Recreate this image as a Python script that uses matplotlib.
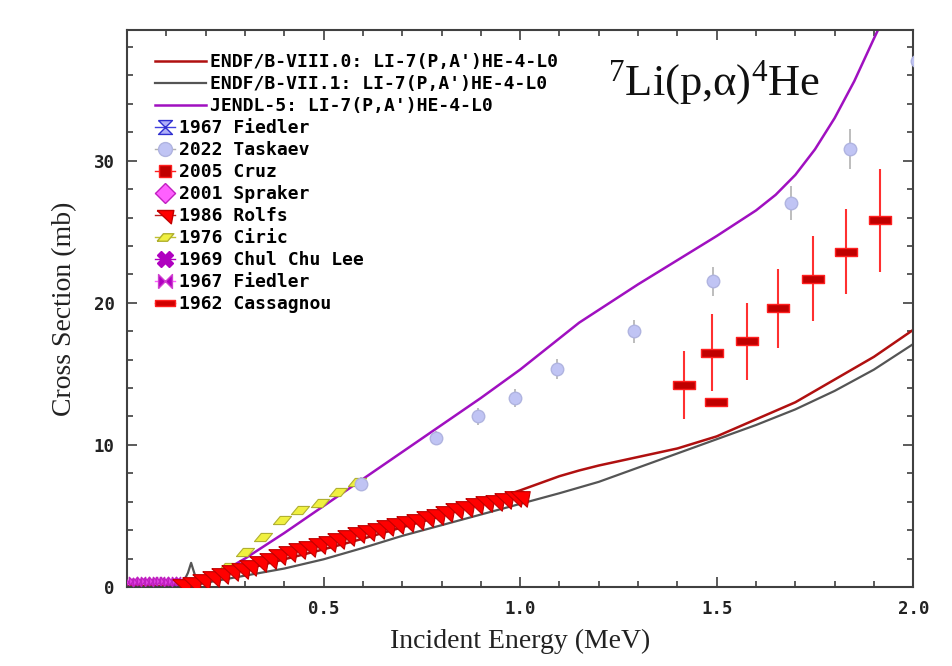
import matplotlib.pyplot as plt
from matplotlib.lines import Line2D
from matplotlib.ticker import MultipleLocator

# evaluated curves
e_endf8 = [0.0, 0.05, 0.1, 0.15, 0.2, 0.25, 0.3, 0.4, 0.5, 0.6, 0.7, 0.8, 0.9,
           1.0, 1.05, 1.1, 1.15, 1.2, 1.3, 1.4, 1.5, 1.6, 1.7, 1.8, 1.9, 2.0, 2.02]
s_endf8 = [0.05, 0.05, 0.08, 0.25, 0.55, 0.9, 1.25, 1.95, 2.65, 3.4, 4.2, 5.0, 5.9,
           6.8, 7.3, 7.8, 8.2, 8.55, 9.15, 9.75, 10.6, 11.8, 13.0, 14.6, 16.2, 18.1, 18.5]

e_endf71 = [0.0, 0.1, 0.14, 0.155, 0.163, 0.172, 0.185, 0.2, 0.3, 0.4, 0.5, 0.6, 0.7,
            0.8, 0.9, 1.0, 1.1, 1.2, 1.3, 1.4, 1.5, 1.6, 1.7, 1.8, 1.9, 2.0, 2.02]
s_endf71 = [0.05, 0.08, 0.15, 1.0, 1.7, 0.9, 0.2, 0.3, 0.8, 1.3, 1.95, 2.75, 3.6,
            4.35, 5.1, 5.85, 6.6, 7.4, 8.4, 9.4, 10.4, 11.4, 12.5, 13.8, 15.3, 17.1, 17.5]

e_jendl = [0.1, 0.15, 0.2, 0.25, 0.3, 0.4, 0.5, 0.6, 0.7, 0.8, 0.9, 1.0, 1.05, 1.1,
           1.15, 1.2, 1.3, 1.4, 1.5, 1.6, 1.65, 1.7, 1.75, 1.8, 1.85, 1.9, 1.95]
s_jendl = [0.0, 0.1, 0.5, 1.2, 2.0, 3.8, 5.7, 7.6, 9.5, 11.4, 13.3, 15.3, 16.4, 17.5,
           18.6, 19.5, 21.3, 23.0, 24.7, 26.5, 27.6, 29.0, 30.8, 33.0, 35.6, 38.6, 41.5]

# experimental data
e_taskaev = [0.594, 0.787, 0.893, 0.987, 1.094, 1.29, 1.49, 1.69, 1.84, 2.01]
s_taskaev = [7.25, 10.5, 12.0, 13.3, 15.35, 18.0, 21.5, 27.0, 30.8, 37.0]
d_taskaev = [0.5, 0.5, 0.6, 0.6, 0.7, 0.8, 1.0, 1.2, 1.4, 1.6]

e_cass = [1.416, 1.487, 1.497, 1.576, 1.657, 1.746, 1.83, 1.916]
s_cass = [14.2, 16.5, 13.0, 17.3, 19.6, 21.7, 23.6, 25.8]
d_cass = [2.4, 2.7, 0.0, 2.7, 2.8, 3.0, 3.0, 3.6]

e_rolfs = [0.14, 0.165, 0.19, 0.215, 0.24, 0.265, 0.29, 0.31, 0.335, 0.36, 0.385, 0.41,
           0.435, 0.46, 0.485, 0.51, 0.535, 0.56, 0.585, 0.61, 0.635, 0.66, 0.685, 0.71,
           0.735, 0.76, 0.785, 0.81, 0.835, 0.86, 0.885, 0.91, 0.935, 0.96, 0.985, 1.0]
s_rolfs = [0.15, 0.3, 0.5, 0.7, 0.9, 1.1, 1.3, 1.5, 1.75, 2.0, 2.25, 2.45,
           2.65, 2.85, 3.05, 3.2, 3.4, 3.6, 3.8, 3.95, 4.1, 4.3, 4.45, 4.6,
           4.75, 4.9, 5.05, 5.3, 5.5, 5.65, 5.85, 5.95, 6.05, 6.2, 6.3, 6.3]

e_ciric = [0.254, 0.30, 0.347, 0.393, 0.44, 0.49, 0.537, 0.584]
s_ciric = [1.43, 2.49, 3.54, 4.72, 5.42, 5.9, 6.7, 7.4]

e_fiedler = [0.005, 0.015, 0.025, 0.035, 0.045, 0.055, 0.065, 0.075, 0.085, 0.095,
             0.105, 0.115, 0.125, 0.135]
s_fiedler = [0.35, 0.4, 0.38, 0.42, 0.4, 0.37, 0.41, 0.39, 0.43, 0.4, 0.38, 0.44, 0.42, 0.45]

# custom marker shapes
pennant = [(-1, 0.6), (1, 0.6), (0.7, -1), (-1, 0.6)]
slant = [(-1, -0.45), (0.25, -0.45), (1, 0.45), (-0.25, 0.45), (-1, -0.45)]
hourglass = [(-1, 1), (1, 1), (-1, -1), (1, -1), (-1, 1)]
bowtie = [(-1, -1), (-1, 1), (1, -1), (1, 1), (-1, -1)]
hbar = [(-1, -0.33), (1, -0.33), (1, 0.33), (-1, 0.33), (-1, -0.33)]

fig = plt.figure(figsize=(9.53, 6.66), dpi=100)
ax = fig.add_axes([0.1333, 0.1186, 0.825, 0.8364])

ax.plot(e_endf71, s_endf71, color='#555555', lw=1.6, zorder=2)
ax.plot(e_endf8, s_endf8, color='#b01010', lw=1.8, zorder=2)
ax.plot(e_jendl, s_jendl, color='#a010c0', lw=1.8, zorder=2)

ax.plot(e_fiedler, s_fiedler, ls='none', marker=bowtie, ms=6, color='#e040e0',
        mec='#c020c0', zorder=3)
ax.plot(e_ciric, s_ciric, ls='none', marker=slant, ms=13, mfc='#f0f040',
        mec='#b0b030', mew=0.8, zorder=3)
ax.plot(e_rolfs, s_rolfs, ls='none', marker=pennant, ms=14, mfc='#ff0000',
        mec='#c00000', mew=0.8, zorder=4)
ax.errorbar(e_taskaev, s_taskaev, yerr=d_taskaev, ls='none', marker='o', ms=9,
            mfc='#c0c4f4', mec='#b0b4e0', ecolor='#b8b8b8', elinewidth=1.3,
            zorder=5)
ax.errorbar(e_cass, s_cass, yerr=d_cass, ls='none', marker=hbar, ms=16,
            mfc='#c00000', mec='#ff2020', mew=1, ecolor='#ff3030', elinewidth=1.5,
            zorder=5)

ax.set_xlim(0, 2.0)
ax.set_ylim(0, 39.2)
ax.xaxis.set_minor_locator(MultipleLocator(0.1))
ax.yaxis.set_major_locator(MultipleLocator(10))
ax.yaxis.set_minor_locator(MultipleLocator(2))
ax.set_xticks([0.5, 1.0, 1.5, 2.0])
ax.set_xticklabels(['0.5', '1.0', '1.5', '2.0'])
ax.tick_params(which='both', direction='in', top=True, right=True,
               color='#404040', width=1.2)
ax.tick_params(which='major', length=7, pad=9)
ax.tick_params(which='minor', length=4)
for lab in ax.get_xticklabels() + ax.get_yticklabels():
    lab.set_fontfamily('DejaVu Sans Mono')
    lab.set_fontweight('bold')
    lab.set_fontsize(12.5)
    lab.set_color('#222222')
for sp in ax.spines.values():
    sp.set_color('#404040')
    sp.set_linewidth(1.5)

ax.set_xlabel('Incident Energy (MeV)', family='Liberation Serif', fontsize=20,
              labelpad=8, color='#222222')
ax.set_ylabel('Cross Section (mb)', family='Liberation Serif', fontsize=20,
              labelpad=12, color='#222222')

ax.text(0.747, 0.905, r'$\mathregular{^{7}}$Li(p,α)$\mathregular{^{4}}$He',
        transform=ax.transAxes, ha='center', va='center',
        family='Liberation Serif', fontsize=32, color='#111111')

# legends
line_handles = [
    Line2D([], [], color='#b01010', lw=1.8),
    Line2D([], [], color='#555555', lw=1.6),
    Line2D([], [], color='#a010c0', lw=1.8),
]
line_labels = ["ENDF/B-VIII.0: LI-7(P,A')HE-4-L0",
               "ENDF/B-VII.1: LI-7(P,A')HE-4-L0",
               "JENDL-5: LI-7(P,A')HE-4-L0"]
mark_handles = [
    Line2D([], [], color='#4040e0', lw=1, marker=hourglass, ms=10, mfc='#b0b0f8', mec='#3030d0'),
    Line2D([], [], color='#b0b0b0', lw=1, marker='o', ms=10, mfc='#c0c4f4', mec='#b0b4e0'),
    Line2D([], [], color='#ff2020', lw=1, marker='s', ms=9, mfc='#c00000', mec='#ff2020'),
    Line2D([], [], color='#ff40ff', lw=1, marker='D', ms=10, mfc='#ff60ff', mec='#c020c0'),
    Line2D([], [], color='#c02020', lw=1, marker=pennant, ms=12, mfc='#ff0000', mec='#c00000'),
    Line2D([], [], color='#c0c030', lw=1, marker=slant, ms=12, mfc='#f0f040', mec='#b0b030'),
    Line2D([], [], color='#b000c0', lw=1, marker='X', ms=12, mfc='#b000c0', mec='#b000c0'),
    Line2D([], [], color='#ff60ff', lw=1, marker=bowtie, ms=10, mfc='#b000c0', mec='#d040d0'),
    Line2D([], [], color='#ff2020', lw=1, marker=hbar, ms=14, mfc='#d00000', mec='#ff2020'),
]
mark_labels = ['1967 Fiedler', '2022 Taskaev', '2005 Cruz', '2001 Spraker',
               '1986 Rolfs', '1976 Ciric', '1969 Chul Chu Lee', '1967 Fiedler',
               '1962 Cassagnou']
font_leg = {'family': 'DejaVu Sans Mono', 'weight': 'bold', 'size': 13}

leg1 = ax.legend(line_handles, line_labels, loc='upper left',
                 bbox_to_anchor=(0.036, 0.958), frameon=False, prop=font_leg,
                 handlelength=2.8, handletextpad=0.2, labelspacing=0.22,
                 borderpad=0, borderaxespad=0)
ax.add_artist(leg1)
ax.legend(mark_handles, mark_labels, loc='upper left',
          bbox_to_anchor=(0.036, 0.840), frameon=False, prop=font_leg,
          handlelength=1.1, handletextpad=0.2, labelspacing=0.22,
          borderpad=0, borderaxespad=0)

fig.savefig('out.png', dpi=100)
